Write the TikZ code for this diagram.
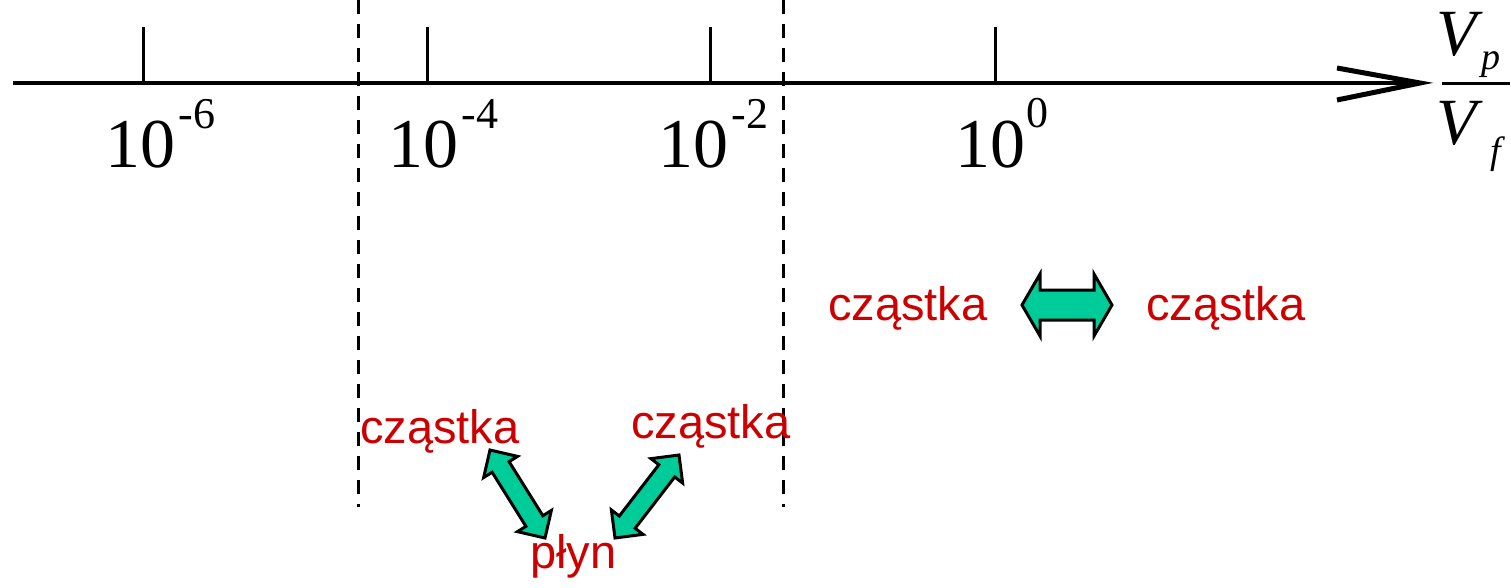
\documentclass[tikz,border=0pt]{standalone}
\usepackage{fontspec}
\setmainfont{Liberation Serif}
\newfontfamily\labelsans{Liberation Sans}
\usetikzlibrary{calc}
\definecolor{partred}{RGB}{204,0,0}
\definecolor{flowgreen}{RGB}{0,204,153}
% block double arrow between two points: #3 head length, #4 head half width, #5 shaft half width
\newcommand\greenarrow[5]{%
  \draw[blockarrow] (#1)
    -- ($(#1)!#3!(#2)!#4!90:(#2)$)
    -- ($(#1)!#3!(#2)!#5!90:(#2)$)
    -- ($(#2)!#3!(#1)!#5!-90:(#1)$)
    -- ($(#2)!#3!(#1)!#4!-90:(#1)$)
    -- (#2)
    -- ($(#2)!#3!(#1)!#4!90:(#1)$)
    -- ($(#2)!#3!(#1)!#5!90:(#1)$)
    -- ($(#1)!#3!(#2)!#5!-90:(#2)$)
    -- ($(#1)!#3!(#2)!#4!-90:(#2)$)
    -- cycle;}
\begin{document}
\begin{tikzpicture}[x=1pt,y=-1pt,
  axisline/.style={line width=3.5pt},
  tickmark/.style={line width=3pt},
  barb/.style={line width=5pt},
  limitline/.style={line width=3pt, dash pattern=on 14pt off 10pt},
  decade/.style={inner sep=0, anchor=base west, font=\fontsize{70}{70}\selectfont},
  expo/.style={inner sep=0, anchor=base west, font=\fontsize{44}{44}\selectfont},
  ratio/.style={inner sep=0, anchor=base west, font=\itshape\fontsize{66}{66}\selectfont},
  ratiosub/.style={inner sep=0, anchor=base west, font=\itshape\fontsize{38}{38}\selectfont},
  word/.style={inner sep=0, anchor=base west, text=partred, font=\labelsans\fontsize{47}{47}\selectfont},
  blockarrow/.style={fill=flowgreen, draw=black, line width=3pt, line join=miter},
]
\useasboundingbox (0,0) rectangle (1511,587);

% dashed regime limits
\coordinate (limAtop) at (358,0);
\coordinate (limAbot) at (358,507);
\coordinate (limBtop) at (783,0);
\coordinate (limBbot) at (783,507);
\draw[limitline] (limAtop) -- (limAbot);
\draw[limitline] (limBtop) -- (limBbot);

% main axis with open arrow tip
\coordinate (axstart) at (13,83);
\coordinate (axtip) at (1420,83);
\coordinate (barbup) at (1337,68);
\coordinate (barbdown) at (1337,100);
\draw[axisline] (axstart) -- (axtip);
\draw[barb] (barbup) -- (axtip) -- (barbdown);

% tick marks
\foreach \x/\n in {143/a,427/b,710/c,995/d}{
  \coordinate (tick\n) at (\x,83);
  \draw[tickmark] (tick\n) -- ++(0,-56);
}

% decade labels
\node[decade] (dsix) at (105,167) {10};
\node[expo] (esix) at ([xshift=3pt,yshift=39pt]dsix.base east) {-6};
\node[decade] (dfour) at (388,167) {10};
\node[expo] (efour) at ([xshift=3pt,yshift=39pt]dfour.base east) {-4};
\node[decade] (dtwo) at (658,167) {10};
\node[expo] (etwo) at ([xshift=3pt,yshift=39pt]dtwo.base east) {-2};
\node[decade] (dzero) at (955,167) {10};
\node[expo] (ezero) at ([xshift=1pt,yshift=40pt]dzero.base east) {0};

% axis quantity V_p / V_f
\node[ratio] (vp) at (1436,55) {V};
\node[ratiosub] (sp) at (1481,69) {p};
\coordinate (barL) at (1442,83);
\coordinate (barR) at (1510,83);
\draw[line width=3pt] (barL) -- (barR);
\node[ratio] (vf) at (1436,144) {V};
\node[ratiosub] (sf) at (1490,163) {f};

% interaction labels
\node[word] (ptA) at (828,320) {cząstka};
\node[word] (ptB) at (1146,320) {cząstka};
\node[word] (ptC) at (360,443) {cząstka};
\node[word] (ptD) at (631,438) {cząstka};
\node[word] (fluid) at (530,568) {płyn};

% two-way coupling arrows
\coordinate (hA) at (1022,305);
\coordinate (hB) at (1112,305);
\greenarrow{hA}{hB}{18pt}{31pt}{15pt}
\coordinate (lA) at (490,450);
\coordinate (lB) at (545,538);
\greenarrow{lA}{lB}{20pt}{20pt}{10pt}
\coordinate (rA) at (679,455);
\coordinate (rB) at (615,538);
\greenarrow{rA}{rB}{20pt}{20pt}{10pt}
\end{tikzpicture}
\end{document}
